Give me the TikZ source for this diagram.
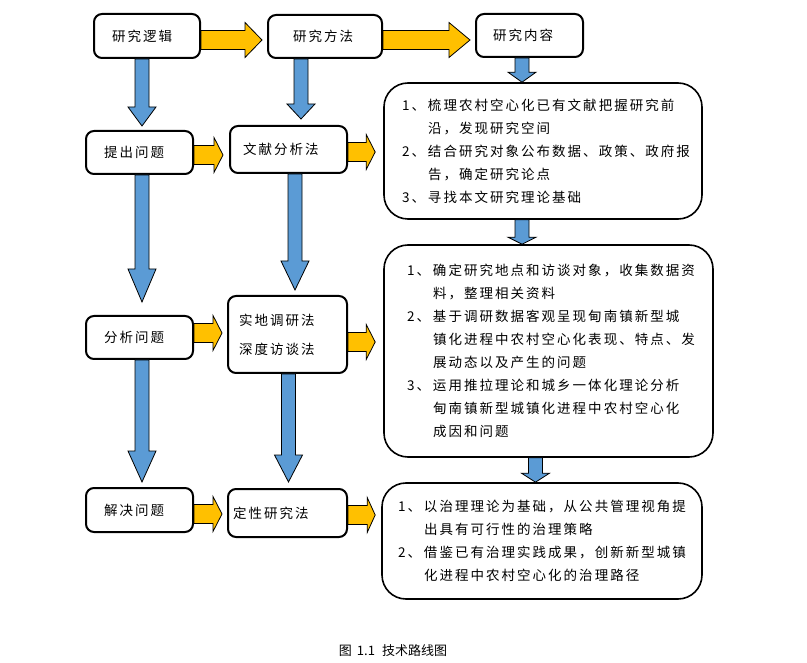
\documentclass[tikz,border=0pt]{standalone}
\usepackage{fontspec}
\setmainfont[LetterSpace=15]{Noto Sans CJK SC}
\newfontfamily\capfont{Noto Sans CJK SC}
\usetikzlibrary{calc}
\usetikzlibrary{positioning}

\definecolor{arrblue}{HTML}{5B9BD5}
\definecolor{arrorange}{HTML}{FFC000}

\newcommand{\itemno}[1]{\makebox[26pt][l]{#1、}}
\newcommand{\itemgap}{\hspace*{26pt}}

% block arrow down: x, upper node, lower node, gap, head length
\newcommand{\vblock}[5]{%
  \draw[bluearr] let \p1=(#2.south), \p2=(#3.north) in
    (#1-7,\y1) -- (#1+7,\y1) -- (#1+7,\y2+#4+#5) -- (#1+14,\y2+#4+#5)
    -- (#1,\y2+#4) -- (#1-14,\y2+#4+#5) -- (#1-7,\y2+#4+#5) -- cycle;}
% block arrow right: y, left node, right node, gap, head length
\newcommand{\hblock}[5]{%
  \draw[orangearr] let \p1=(#2.east), \p2=(#3.west) in
    (\x1,#1-9.5) -- (\x2-#4-#5,#1-9.5) -- (\x2-#4-#5,#1-17.5) -- (\x2-#4,#1)
    -- (\x2-#4-#5,#1+17.5) -- (\x2-#4-#5,#1+9.5) -- (\x1,#1+9.5) -- cycle;}

\tikzset{
  sbox/.style={draw, line width=2pt, rounded corners=8pt, align=left,
    font=\fontsize{13.5}{16}\selectfont},
  bbox/.style={draw, line width=1.6pt, rounded corners=24pt, align=left,
    font=\fontsize{13.5}{23}\selectfont},
  bluearr/.style={draw=black, line width=0.8pt, fill=arrblue},
  orangearr/.style={draw=black, line width=0.8pt, fill=arrorange}
}

\begin{document}
\begin{tikzpicture}[x=1pt, y=-1pt]
    \useasboundingbox (0,0) rectangle (807,663);

    % Top row
    \node[sbox, text width=70pt, inner xsep=18pt, minimum height=44pt] (logic) at (147,36) {研究逻辑};
    \node[sbox, text width=64pt, inner xsep=25pt, minimum height=43pt] (method) at (325,36.5) {研究方法};
    \node[sbox, text width=73pt, inner xsep=17pt, minimum height=43pt] (content) at (529.5,35.5) {研究内容};

    % Logic column
    \node[sbox, text width=71pt, inner xsep=18pt, minimum height=43pt] (raise) at (139.5,152.5) {提出问题};
    \node[sbox, text width=71pt, inner xsep=18pt, minimum height=43pt] (analyse) at (139.5,337.5) {分析问题};
    \node[sbox, text width=71pt, inner xsep=18pt, minimum height=44pt] (solve) at (139.5,510) {解决问题};

    % Method column
    \node[sbox, text width=91pt, inner xsep=13pt, minimum height=47pt] (lit) at (288.5,149.5) {文献分析法};
    \node[sbox, text width=97pt, inner xsep=11pt, minimum height=77pt,
      font=\fontsize{13.5}{29}\selectfont] (field) at (287.5,334.5) {实地调研法\\深度访谈法};
    \node[sbox, text width=109pt, inner xsep=5pt, minimum height=48pt] (qual) at (287.5,513) {定性研究法};

    % Content column
    \node[bbox, text width=282pt, inner xsep=18pt, minimum height=136pt] (boxA) at (543,151) {%
      \itemno{1}梳理农村空心化已有文献把握研究前\\
      \itemgap 沿，发现研究空间\\
      \itemno{2}结合研究对象公布数据、政策、政府报\\
      \itemgap 告，确定研究论点\\
      \itemno{3}寻找本文研究理论基础};
    \node[bbox, text width=283pt, inner xsep=23pt, minimum height=212pt] (boxB) at (548.5,351) {%
      \itemno{1}确定研究地点和访谈对象，收集数据资\\
      \itemgap 料，整理相关资料\\
      \itemno{2}基于调研数据客观呈现甸南镇新型城\\
      \itemgap 镇化进程中农村空心化表现、特点、发\\
      \itemgap 展动态以及产生的问题\\
      \itemno{3}运用推拉理论和城乡一体化理论分析\\
      \itemgap 甸南镇新型城镇化进程中农村空心化\\
      \itemgap 成因和问题};
    \node[bbox, text width=288pt, inner xsep=16pt, minimum height=116pt] (boxC) at (542,541) {%
      \itemno{1}以治理理论为基础，从公共管理视角提\\
      \itemgap 出具有可行性的治理策略\\
      \itemno{2}借鉴已有治理实践成果，创新新型城镇\\
      \itemgap 化进程中农村空心化的治理路径};

    % Down arrows
    \vblock{142}{logic}{raise}{4}{19}
    \vblock{301}{method}{lit}{6}{15}
    \vblock{522}{content}{boxA}{0}{10}
    \vblock{142}{raise}{analyse}{13}{33}
    \vblock{295}{lit}{field}{5}{29}
    \vblock{142}{analyse}{solve}{5}{31}
    \vblock{288.5}{field}{qual}{6}{27}
    \vblock{522}{boxA}{boxB}{0}{7}
    \vblock{535.5}{boxB}{boxC}{0}{9}

    % Right arrows
    \hblock{40}{logic}{method}{5}{17}
    \hblock{40}{method}{content}{5}{21}
    \hblock{155}{raise}{lit}{6}{9}
    \hblock{152}{lit}{boxA}{8}{9}
    \hblock{333}{analyse}{field}{5}{9}
    \hblock{342}{field}{boxB}{8}{9}
    \hblock{514}{solve}{qual}{5}{9}
    \hblock{515}{qual}{boxC}{6}{8}

    % Caption
    \node[font=\capfont\fontsize{13}{15}\selectfont] (cap) at (393,651) {图\hspace{5pt}1.1\hspace{7pt}技术路线图};
\end{tikzpicture}
\end{document}
